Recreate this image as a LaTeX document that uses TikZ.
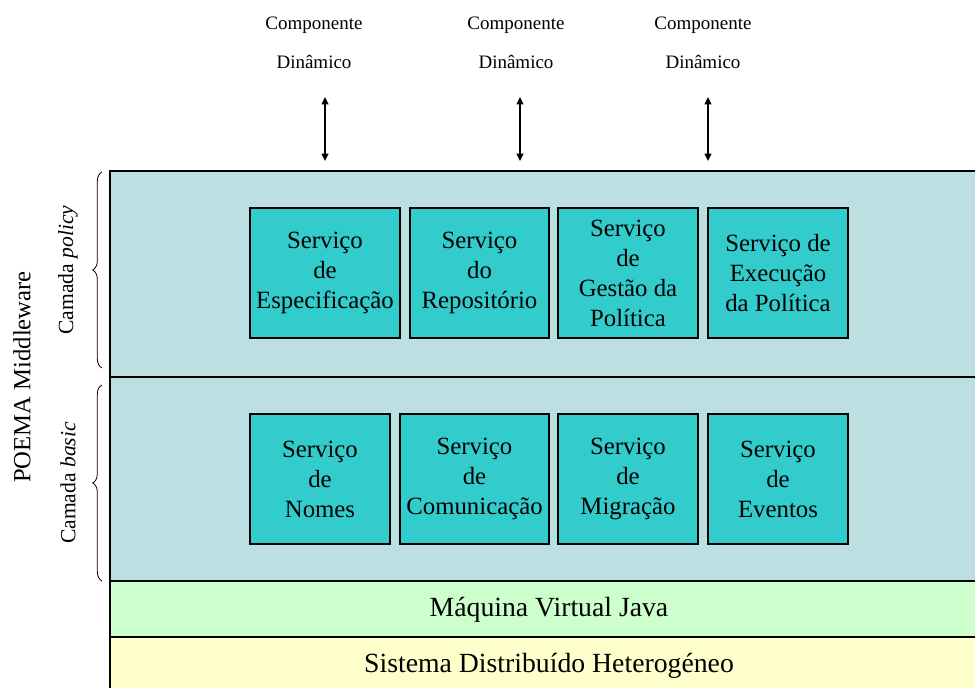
\documentclass[tikz,border=0pt]{standalone}
\usepackage{fontspec}
\setmainfont{Liberation Serif}
\usetikzlibrary{decorations.pathreplacing,arrows.meta}
\newlength\pxu \setlength\pxu{0.75pt}
\definecolor{layerblue}{HTML}{BCE0E2}
\definecolor{svcteal}{HTML}{33CCCC}
\definecolor{jvmgreen}{HTML}{CCFFCC}
\definecolor{sysyellow}{HTML}{FFFFCC}
\begin{document}
\begin{tikzpicture}[x=0.75pt,y=-0.75pt,
  layer/.style={draw=black,line width=1.1pt,anchor=north west,inner sep=0pt,outer sep=0pt,minimum width={880*\pxu}},
  svc/.style={draw=black,line width=0.8pt,fill=svcteal,anchor=north west,inner sep=0pt,outer sep=0pt,minimum height={130*\pxu},align=center,font=\fontsize{18.6pt}{22.5pt}\selectfont},
  comp/.style={align=center,font=\fontsize{14.25pt}{29.25pt}\selectfont},
  dyn/.style={line width=1.1pt,{Triangle[length=5.5pt,width=5pt]}-{Triangle[length=5.5pt,width=5pt]}},
  brc/.style={decorate,decoration={brace,amplitude=7pt},line width=0.6pt},
  lyrtext/.style={font=\fontsize{20.8pt}{24pt}\selectfont}
]
\useasboundingbox (0,0) rectangle (975,688);
\clip (0,0) rectangle (975,688);
% layers
\node[layer,fill=layerblue,minimum height={206*\pxu}] (policy) at (110,171) {};
\node[layer,fill=layerblue,minimum height={204*\pxu}] (basic) at (110,377) {};
\node[layer,fill=jvmgreen,minimum height={56*\pxu}] (jvm) at (110,581) {};
\node[layer,fill=sysyellow,minimum height={70*\pxu}] (sys) at (110,637) {};
\node[lyrtext] (jvmt) at (549,610) {Máquina Virtual Java};
\node[lyrtext] (syst) at (549,666) {Sistema Distribuído Heterogéneo};
% policy services
\node[svc,minimum width={150*\pxu}] (p1) at (250,208) {Serviço\\de\\Especificação};
\node[svc,minimum width={139*\pxu}] (p2) at (410,208) {Serviço\\do\\Repositório};
\node[svc,minimum width={140*\pxu}] (p3) at (558,208) {Serviço\\de\\Gestão da\\Política};
\node[svc,minimum width={140*\pxu}] (p4) at (708,208) {Serviço de\\Execução\\da Política};
% basic services
\node[svc,minimum width={140*\pxu}] (b1) at (250,414) {Serviço\\de\\Nomes};
\node[svc,minimum width={149*\pxu}] (b2) at (400,414) {Serviço\\de\\Comunicação};
\node[svc,minimum width={140*\pxu}] (b3) at (558,414) {Serviço\\de\\Migração};
\node[svc,minimum width={140*\pxu}] (b4) at (708,414) {Serviço\\de\\Eventos};
% dynamic components
\node[comp] (c1) at (314,43) {Componente\\Dinâmico};
\node[comp] (c2) at (516,43) {Componente\\Dinâmico};
\node[comp] (c3) at (703,43) {Componente\\Dinâmico};
\coordinate (a1t) at (325,97); \coordinate (a1b) at (325,161);
\coordinate (a2t) at (520,97); \coordinate (a2b) at (520,161);
\coordinate (a3t) at (708,97); \coordinate (a3b) at (708,161);
\draw[dyn] (a1t) -- (a1b);
\draw[dyn] (a2t) -- (a2b);
\draw[dyn] (a3t) -- (a3b);
% braces and side labels
\coordinate (bp1) at (102,368); \coordinate (bp2) at (102,172);
\coordinate (bb1) at (102,581); \coordinate (bb2) at (102,385);
\draw[brc] (bp1) -- (bp2);
\draw[brc] (bb1) -- (bb2);
\node[rotate=90,font=\fontsize{16.2pt}{19pt}\selectfont] (lp) at (68,270) {Camada \textit{policy}};
\node[rotate=90,font=\fontsize{16.2pt}{19pt}\selectfont] (lb) at (68,483) {Camada \textit{basic}};
\node[rotate=90,font=\fontsize{18.5pt}{22pt}\selectfont] (poema) at (22,377) {POEMA Middleware};
\end{tikzpicture}
\end{document}
